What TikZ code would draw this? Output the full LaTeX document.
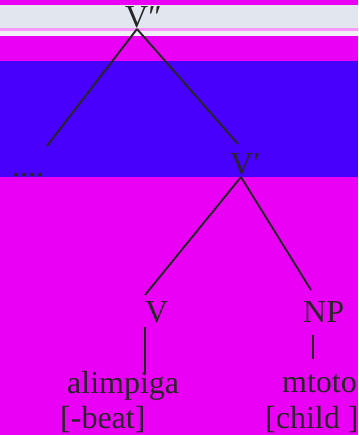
\documentclass[tikz,border=0pt]{standalone}
\usepackage{fontspec}
\setmainfont{Liberation Serif}
\definecolor{mag}{RGB}{234,0,244}
\definecolor{band}{RGB}{72,0,252}
\definecolor{paper}{RGB}{226,230,238}
\begin{document}
\begin{tikzpicture}[x=1pt,y=-1pt,
    lbl/.style={anchor=base west,inner sep=0pt,text=black!85,font=\fontsize{32}{36}\selectfont},
    br/.style={line width=1.9pt,black!85}]
    \useasboundingbox (0,0) rectangle (358,435);
    \fill[mag](0,0)rectangle(358,435);
    \fill[paper](0,5)rectangle(358,28);
    \fill[mag!40!white](0,28)rectangle(358,31);
    \fill[paper!60!white](0,31)rectangle(358,36);
    \fill[band](0,61)rectangle(358,177);

    \node[lbl](vpp)at(125,28){V″};
    \node[lbl](dots)at(12,177){....};
    \node[lbl](vp)at(230,175){V′};
    \node[lbl](v)at(145,322){V};
    \node[lbl](np)at(303,322){NP};
    \node[lbl](w1)at(67,393){alimpiga};
    \node[lbl](g1)at(60,428){[-beat]};
    \node[lbl](w2)at(282,392){mtoto};
    \node[lbl](g2)at(265,428){[child ]};

    \coordinate (a) at (137,29);
    \coordinate (b) at (47,146);
    \coordinate (c) at (238,144);
    \coordinate (d) at (241,177);
    \coordinate (e) at (145,295);
    \coordinate (f) at (311,290);
    %\coordinate (g) at (145,324);
    \draw[br](a)--(b);
    \draw[br](a)--(c);
    \draw[br](d)--(e);
    \draw[br](d)--(f);
    \draw[br](v.south west)++(0,4)--++(0,46);
    \draw[br](np.south west)++(10,13)--++(0,24);
\end{tikzpicture}
\end{document}
